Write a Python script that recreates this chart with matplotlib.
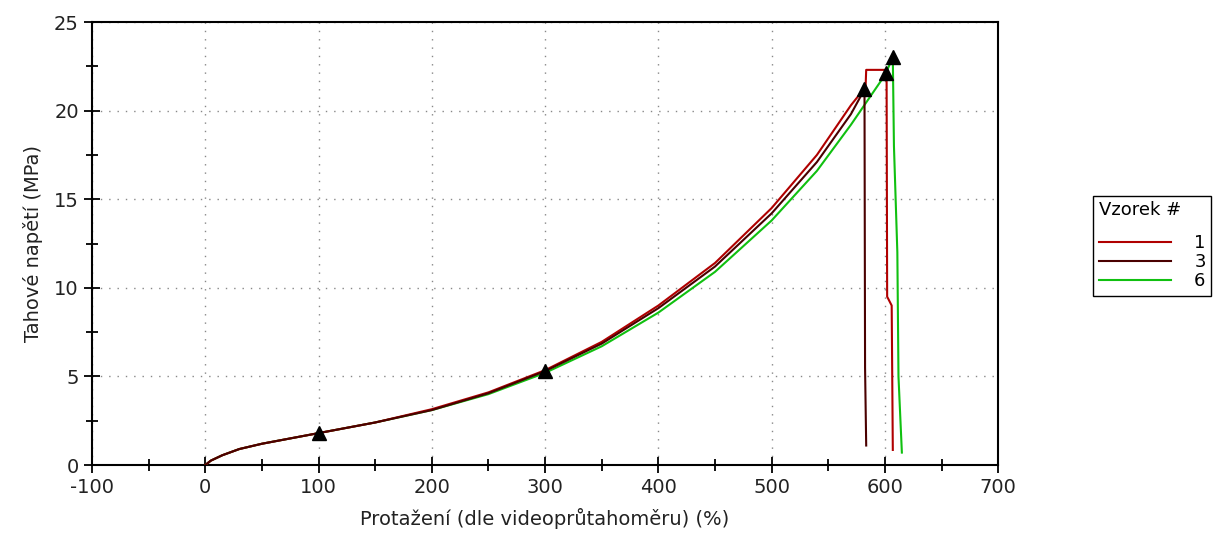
import matplotlib
matplotlib.use("Agg")
import matplotlib.pyplot as plt
from matplotlib.ticker import MultipleLocator

plt.rcParams['axes.unicode_minus'] = False

# data (strain %, stress MPa)
strain_1 = [0, 5, 15, 30, 50, 75, 100, 150, 200, 250, 300, 350, 400, 450, 500, 540, 570,
            580, 583, 583.5, 600, 601.5, 602, 606, 607]
stress_1 = [0, 0.25, 0.55, 0.9, 1.2, 1.5, 1.8, 2.4, 3.15, 4.1, 5.35, 6.95, 9.0, 11.4, 14.5, 17.5, 20.3,
            21.1, 21.4, 22.3, 22.3, 22.1, 9.5, 9.0, 0.85]

strain_3 = [0, 5, 15, 30, 50, 75, 100, 150, 200, 250, 300, 350, 400, 450, 500, 540, 570,
            582, 582.5, 583.5]
stress_3 = [0, 0.25, 0.55, 0.9, 1.2, 1.5, 1.8, 2.4, 3.1, 4.05, 5.3, 6.85, 8.85, 11.2, 14.2, 17.1, 19.8,
            21.2, 5.5, 1.1]

strain_6 = [0, 5, 15, 30, 50, 75, 100, 150, 200, 250, 300, 350, 400, 450, 500, 540, 570,
            600, 607, 608, 611, 612, 615]
stress_6 = [0, 0.25, 0.55, 0.9, 1.2, 1.5, 1.8, 2.4, 3.1, 4.0, 5.2, 6.7, 8.6, 10.9, 13.8, 16.6, 19.2,
            22.0, 23.0, 18.0, 12.0, 5.0, 0.7]

# triangle markers
mark_x = [100, 300, 582, 601, 607]
mark_y = [1.8, 5.3, 21.2, 22.1, 23.0]

labels = ["1", "3", "6"]
colors = ["#b00000", "#4a0000", "#10c010"]

fig = plt.figure(figsize=(12.14, 5.52), dpi=100)
ax = fig.add_axes([0.0758, 0.1576, 0.7464, 0.8025])

l6, = ax.plot(strain_6, stress_6, color=colors[2], lw=1.5, zorder=3)
l1, = ax.plot(strain_1, stress_1, color=colors[0], lw=1.5, zorder=4)
l3, = ax.plot(strain_3, stress_3, color=colors[1], lw=1.5, zorder=5)
ax.plot(mark_x, mark_y, '^', color='black', ms=10, zorder=6)

ax.set_xlim(-100, 700)
ax.set_ylim(0, 25)
ax.xaxis.set_major_locator(MultipleLocator(100))
ax.xaxis.set_minor_locator(MultipleLocator(50))
ax.yaxis.set_major_locator(MultipleLocator(5))
ax.yaxis.set_minor_locator(MultipleLocator(2.5))
ax.tick_params(which='major', direction='inout', length=11, width=1.3, labelsize=14,
               labelcolor='#222222', pad=4)
ax.tick_params(which='minor', direction='inout', length=9, width=1.3)
ax.grid(which='major', color='#888888', linestyle=(0, (1, 5)), lw=1.0)
for s in ax.spines.values():
    s.set_linewidth(1.5)

ax.set_xlabel('Protažení (dle videoprůtahoměru) (%)', fontsize=14, color='#222222', labelpad=8)
ax.set_ylabel('Tahové napětí (MPa)', fontsize=14, color='#222222', labelpad=8)

leg = fig.legend([l1, l3, l6], labels, title='Vzorek #', loc='upper left',
                 bbox_to_anchor=(0.893, 0.662), fontsize=13, title_fontsize=13,
                 handlelength=4.0, handletextpad=1.3, labelspacing=0.05,
                 fancybox=False, edgecolor='black', framealpha=1, borderpad=0.3,
                 alignment='left')
leg.get_frame().set_linewidth(1.0)
leg._legend_box.sep = 11  # extra gap under the title

fig.savefig('out.png', dpi=100)
